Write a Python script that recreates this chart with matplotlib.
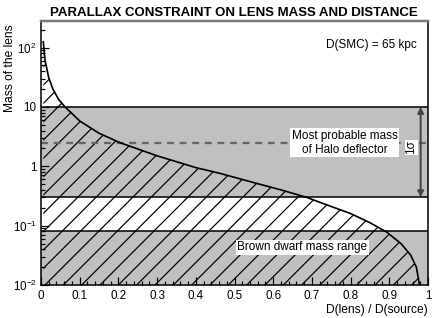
import matplotlib
matplotlib.use("Agg")
import matplotlib.pyplot as plt
import numpy as np
from matplotlib.ticker import FixedLocator, NullFormatter, MultipleLocator

plt.rcParams['font.family'] = ['Liberation Sans', 'DejaVu Sans']
plt.rcParams['hatch.linewidth'] = 0.8
plt.rcParams['mathtext.fontset'] = 'custom'
plt.rcParams['mathtext.rm'] = 'Liberation Sans'
plt.rcParams['mathtext.it'] = 'Liberation Sans'

# Parallax constraint curve
curve_x = [0.006, 0.01, 0.02, 0.03, 0.045, 0.062, 0.1, 0.15, 0.204, 0.3, 0.4,
           0.4625, 0.55, 0.62, 0.686, 0.75, 0.8, 0.85, 0.893, 0.93, 0.955, 0.97, 0.978]
curve_m = [125, 63, 31, 20.5, 13.5, 10, 5.8, 3.6, 2.5, 1.5, 0.95,
           0.76, 0.53, 0.4, 0.3, 0.21, 0.16, 0.112, 0.078, 0.05, 0.032, 0.02, 0.01]

halo_band = (0.3, 10.0)
brown_band = (0.01, 0.08)
most_probable = 2.5

x_ticks = [0, 0.1, 0.2, 0.3, 0.4, 0.5, 0.6, 0.7, 0.8, 0.9, 1]
x_ticklabels = ['0', '0.1', '0.2', '0.3', '0.4', '0.5', '0.6', '0.7', '0.8', '0.9', '1']
y_ticks = [1e-2, 1e-1, 1, 10, 100]
y_ticklabels = [r'$10^{-2}$', r'$10^{-1}$', '1', '10', r'$10^{2}$']

dpi = 110
fig = plt.figure(figsize=(436 / dpi, 318 / dpi), dpi=dpi)
ax = fig.add_axes([41 / 436, 33 / 318, 387 / 436, 264 / 318])
ax.set_yscale('log')
ax.set_xlim(0, 1)
ax.set_ylim(0.01, 280)

gray = '#c0c0c0'
ax.axhspan(halo_band[0], halo_band[1], color=gray, lw=0, zorder=0)
ax.axhspan(brown_band[0], brown_band[1], color=gray, lw=0, zorder=0)
for v in (halo_band[1], halo_band[0], brown_band[1]):
    ax.axhline(v, color='black', lw=1.0, zorder=3)

ax.fill_between(curve_x, 0.01, curve_m, facecolor='none', edgecolor='black',
                hatch='//', lw=0, zorder=1)
ax.plot(curve_x, curve_m, color='black', lw=1.1, zorder=3)

ax.axhline(most_probable, color='#666666', lw=1.5, ls=(0, (3, 2.5)), zorder=2)

fs = 7.7
ax.text(0.785, most_probable, 'Most probable mass\nof Halo deflector', ha='center',
        va='center', fontsize=fs, linespacing=1.2, zorder=5,
        bbox=dict(facecolor='white', edgecolor='none', pad=1.0))
ax.text(0.675, 0.043, 'Brown dwarf mass range', ha='center', va='center', fontsize=fs,
        zorder=5, bbox=dict(facecolor='white', edgecolor='none', pad=1.0))
ax.text(0.97, 0.93, 'D(SMC) = 65 kpc', ha='right', va='top', fontsize=fs,
        transform=ax.transAxes)

ax.annotate('', xy=(0.981, halo_band[1]), xytext=(0.981, halo_band[0]),
            arrowprops=dict(arrowstyle='<|-|>', color='#444444', lw=1.3,
                            mutation_scale=8, shrinkA=0, shrinkB=0), zorder=4)
ax.text(0.957, 2.1, '1σ', rotation=90, ha='center', va='center', fontsize=fs,
        zorder=5, bbox=dict(facecolor='white', edgecolor='none', pad=0.4))

ax.set_xticks(x_ticks)
ax.set_xticklabels(x_ticklabels)
ax.xaxis.set_minor_locator(MultipleLocator(0.02))
ax.set_yticks(y_ticks)
ax.set_yticklabels(y_ticklabels)
ax.tick_params(axis='both', which='major', direction='in', length=5, width=0.8,
               labelsize=7.6, top=False, right=False, pad=3)
ax.tick_params(axis='both', which='minor', direction='in', length=2.5, width=0.8,
               top=False, right=False)

for s in ('left', 'bottom', 'right'):
    ax.spines[s].set_linewidth(1.0)
ax.spines['top'].set_color('#777777')
ax.spines['top'].set_linewidth(1.6)

fig.text(233.5 / 436, 0.978, 'PARALLAX CONSTRAINT ON LENS MASS AND DISTANCE', ha='center',
         va='top', fontsize=8.7, fontweight='bold')
fig.text(428 / 436, 2 / 318, 'D(lens) / D(source)', ha='right', va='bottom', fontsize=7.9)
fig.text(4 / 436, 1 - 112 / 318, 'Mass of the lens', rotation=90,
         ha='left', va='bottom', fontsize=7.9)

fig.savefig('out.png', dpi=dpi)
